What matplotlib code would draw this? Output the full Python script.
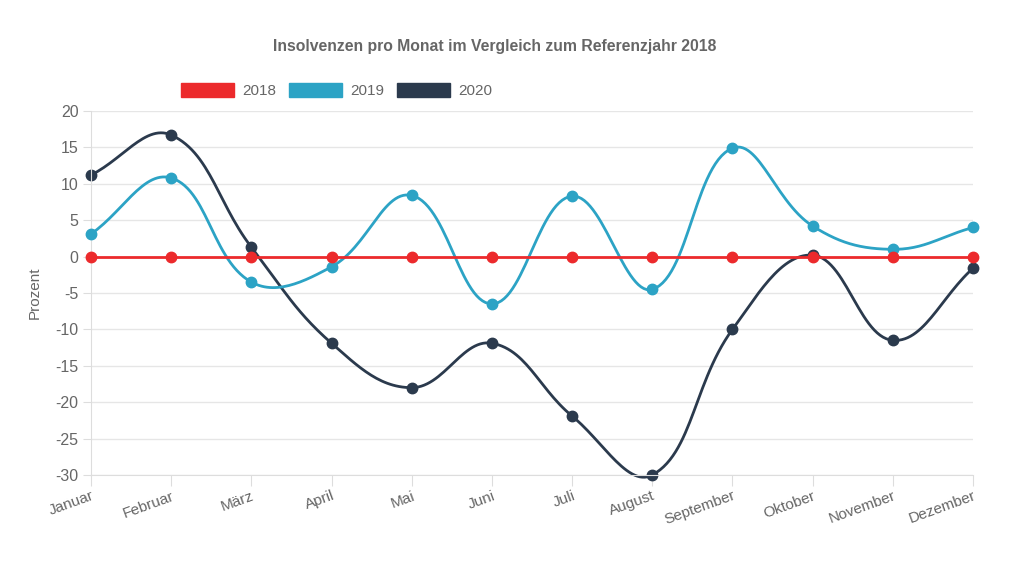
import numpy as np
import matplotlib
matplotlib.use('Agg')
import matplotlib.pyplot as plt
from matplotlib.patches import Patch

plt.rcParams['font.family'] = ['Liberation Sans', 'DejaVu Sans']
plt.rcParams['axes.unicode_minus'] = False

# Daten
monate = ['Januar', 'Februar', 'März', 'April', 'Mai', 'Juni', 'Juli',
          'August', 'September', 'Oktober', 'November', 'Dezember']
werte_2018 = [0, 0, 0, 0, 0, 0, 0, 0, 0, 0, 0, 0]
werte_2019 = [3.1, 10.8, -3.5, -1.4, 8.4, -6.5, 8.3, -4.5, 14.9, 4.2, 1.0, 4.0]
werte_2020 = [11.2, 16.7, 1.3, -11.9, -18.0, -11.9, -21.9, -30.0, -10.0, 0.2, -11.5, -1.6]

farben = {'2018': '#ec2a2c', '2019': '#2ca3c5', '2020': '#2b3a4d'}
grau = '#666666'


def spline(xs, ys, sx=80.2, sy=7.28, t=0.4, n=30):
    # bezier wie bei chart.js (tension 0.4), abstaende in pixeln
    px = np.asarray(xs, float) * sx
    py = np.asarray(ys, float) * sy
    m = len(px)
    cp_prev, cp_next = [], []
    for i in range(m):
        a = max(i - 1, 0)
        b = min(i + 1, m - 1)
        d01 = np.hypot(px[i] - px[a], py[i] - py[a])
        d12 = np.hypot(px[b] - px[i], py[b] - py[i])
        s = d01 + d12
        s01 = d01 / s if s else 0
        s12 = d12 / s if s else 0
        fa, fb = t * s01, t * s12
        dx, dy = px[b] - px[a], py[b] - py[a]
        cp_prev.append((px[i] - fa * dx, py[i] - fa * dy))
        cp_next.append((px[i] + fb * dx, py[i] + fb * dy))
    outx, outy = [], []
    tt = np.linspace(0, 1, n)
    for i in range(m - 1):
        p0 = np.array([px[i], py[i]])
        p1 = np.array(cp_next[i])
        p2 = np.array(cp_prev[i + 1])
        p3 = np.array([px[i + 1], py[i + 1]])
        c = ((1 - tt) ** 3)[:, None] * p0 + (3 * (1 - tt) ** 2 * tt)[:, None] * p1 \
            + (3 * (1 - tt) * tt ** 2)[:, None] * p2 + (tt ** 3)[:, None] * p3
        outx.extend(c[:, 0])
        outy.extend(c[:, 1])
    return np.array(outx) / sx, np.array(outy) / sy


fig = plt.figure(figsize=(10.24, 5.61), dpi=100)
ax = fig.add_axes([91 / 1024, 1 - 475 / 561, 882 / 1024, 364 / 561])

x = np.arange(len(monate))
reihen = [('2020', werte_2020, 2), ('2019', werte_2019, 3), ('2018', werte_2018, 4)]
for name, werte, z in reihen:
    cx, cy = spline(x, werte)
    ax.plot(cx, cy, color=farben[name], lw=2.0, zorder=z, clip_on=False)
    ax.plot(x, werte, 'o', color=farben[name], ms=7.5, zorder=z, clip_on=False)

ax.set_xlim(0, 11)
ax.set_ylim(-30, 20)
ax.set_yticks(range(-30, 21, 5))
ax.set_xticks(x)
ax.set_xticklabels(monate, rotation=20, ha='right', rotation_mode='anchor')
ax.grid(axis='y', color='#e6e6e6', lw=1)
ax.set_axisbelow(True)
for s in ['top', 'right']:
    ax.spines[s].set_visible(False)
ax.spines['left'].set_color('#dddddd')
ax.spines['bottom'].set_color('#dddddd')
ax.tick_params(axis='y', colors='#dddddd', labelcolor=grau, labelsize=11.5, length=6, pad=3)
ax.tick_params(axis='x', colors='#dddddd', labelcolor=grau, labelsize=11, length=8, pad=2)
ax.set_ylabel('Prozent', color=grau, fontsize=11, labelpad=10)

fig.text(0.483, 0.918, 'Insolvenzen pro Monat im Vergleich zum Referenzjahr 2018',
         ha='center', va='center', fontsize=11.3, fontweight='bold', color=grau)

handles = [Patch(facecolor=farben[k], edgecolor=farben[k]) for k in ['2018', '2019', '2020']]
fig.legend(handles, ['2018', '2019', '2020'], loc='center left', bbox_to_anchor=(0.163, 0.839),
           ncol=3, frameon=False, handlelength=3.5, handleheight=1.1, handletextpad=0.5,
           columnspacing=0.85, labelcolor=grau, prop={'size': 11})

fig.savefig('out.png', dpi=100, facecolor='white')
